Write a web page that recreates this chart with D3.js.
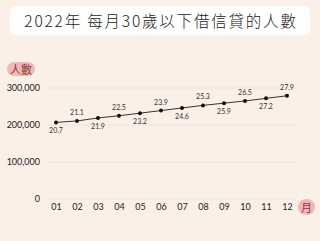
<!DOCTYPE html>
<html><head><meta charset="utf-8">
<script src="https://cdn.jsdelivr.net/npm/d3@7"></script>
<style>
html,body{margin:0;padding:0;background:#fbf0e8;}
svg{display:block;}
</style></head>
<body>
<script>
const months = ["01","02","03","04","05","06","07","08","09","10","11","12"];
const values = [207000,211000,219000,225000,232000,239000,246000,253000,259000,265000,272000,279000];
const pointLabels = ["20.7","21.1","21.9","22.5","23.2","23.9","24.6","25.3","25.9","26.5","27.2","27.9"];
const yTicks = [0,100000,200000,300000];
const title = "2022年  每月30歲以下借信貸的人數";

const W = 320, H = 241;
const svg = d3.select("body").append("svg").attr("width", W).attr("height", H);
svg.append("rect").attr("width", W).attr("height", H).attr("fill", "#fbf0e8");

const font = "'Noto Sans CJK TC','Noto Sans',sans-serif";

// title box
svg.append("rect").attr("x", 10).attr("y", 6).attr("width", 300).attr("height", 29).attr("rx", 6).attr("fill", "#ffffff");
svg.append("text").attr("x", 161).attr("y", 26.5).attr("text-anchor", "middle")
  .attr("font-family", font).attr("font-size", 15.5).attr("letter-spacing", 1.8)
  .attr("font-weight", 300).attr("fill", "#222").text(title);

const x = d3.scalePoint().domain(months).range([56, 287]);
const y = d3.scaleLinear().domain([0, 300000]).range([199, 88]);

// gridlines
svg.append("g").selectAll("line").data(yTicks).join("line")
  .attr("x1", 48).attr("x2", 296).attr("y1", d => y(d)).attr("y2", d => y(d))
  .attr("stroke", "#f1e2d8").attr("stroke-width", 1);

// y axis
const yAxis = svg.append("g").attr("transform", "translate(40,0)")
  .call(d3.axisLeft(y).tickValues(yTicks).tickSize(0).tickPadding(0).tickFormat(d3.format(",")));
yAxis.select(".domain").remove();
yAxis.selectAll("text").attr("font-family", "'Lato','Noto Sans',sans-serif").attr("font-size", 9).attr("fill", "#222");

// x axis
const xAxis = svg.append("g").attr("transform", "translate(0,199)")
  .call(d3.axisBottom(x).tickSize(0).tickPadding(5));
xAxis.select(".domain").remove();
xAxis.selectAll("text").attr("font-family", "'Lato','Noto Sans',sans-serif").attr("font-size", 9).attr("fill", "#222");

// line
const data = months.map((m, i) => ({m, v: values[i], l: pointLabels[i], i}));
svg.append("path").datum(data)
  .attr("d", d3.line().x(d => x(d.m)).y(d => y(d.v)))
  .attr("fill", "none").attr("stroke", "#333").attr("stroke-width", 1);
svg.append("g").selectAll("circle").data(data).join("circle")
  .attr("cx", d => x(d.m)).attr("cy", d => y(d.v)).attr("r", 2).attr("fill", "#111");
svg.append("g").selectAll("text").data(data).join("text")
  .attr("x", d => x(d.m)).attr("y", d => d.i % 2 === 0 ? y(d.v) + 11 : y(d.v) - 6)
  .attr("text-anchor", "middle").attr("font-family", "'Lato','Noto Sans',sans-serif")
  .attr("font-size", 7).attr("fill", "#333").text(d => d.l);

// axis title pills
svg.append("rect").attr("x", 7).attr("y", 62).attr("width", 28).attr("height", 14).attr("rx", 7).attr("fill", "#f0b7b7");
svg.append("text").attr("x", 21).attr("y", 73.5).attr("text-anchor", "middle")
  .attr("font-family", font).attr("font-size", 11).attr("fill", "#8a3a3a").text("人數");
svg.append("rect").attr("x", 298).attr("y", 199).attr("width", 17).attr("height", 16).attr("rx", 8).attr("fill", "#f0b7b7");
svg.append("text").attr("x", 306.5).attr("y", 211.5).attr("text-anchor", "middle")
  .attr("font-family", font).attr("font-size", 11).attr("fill", "#8a3a3a").text("月");
</script>
</body></html>
